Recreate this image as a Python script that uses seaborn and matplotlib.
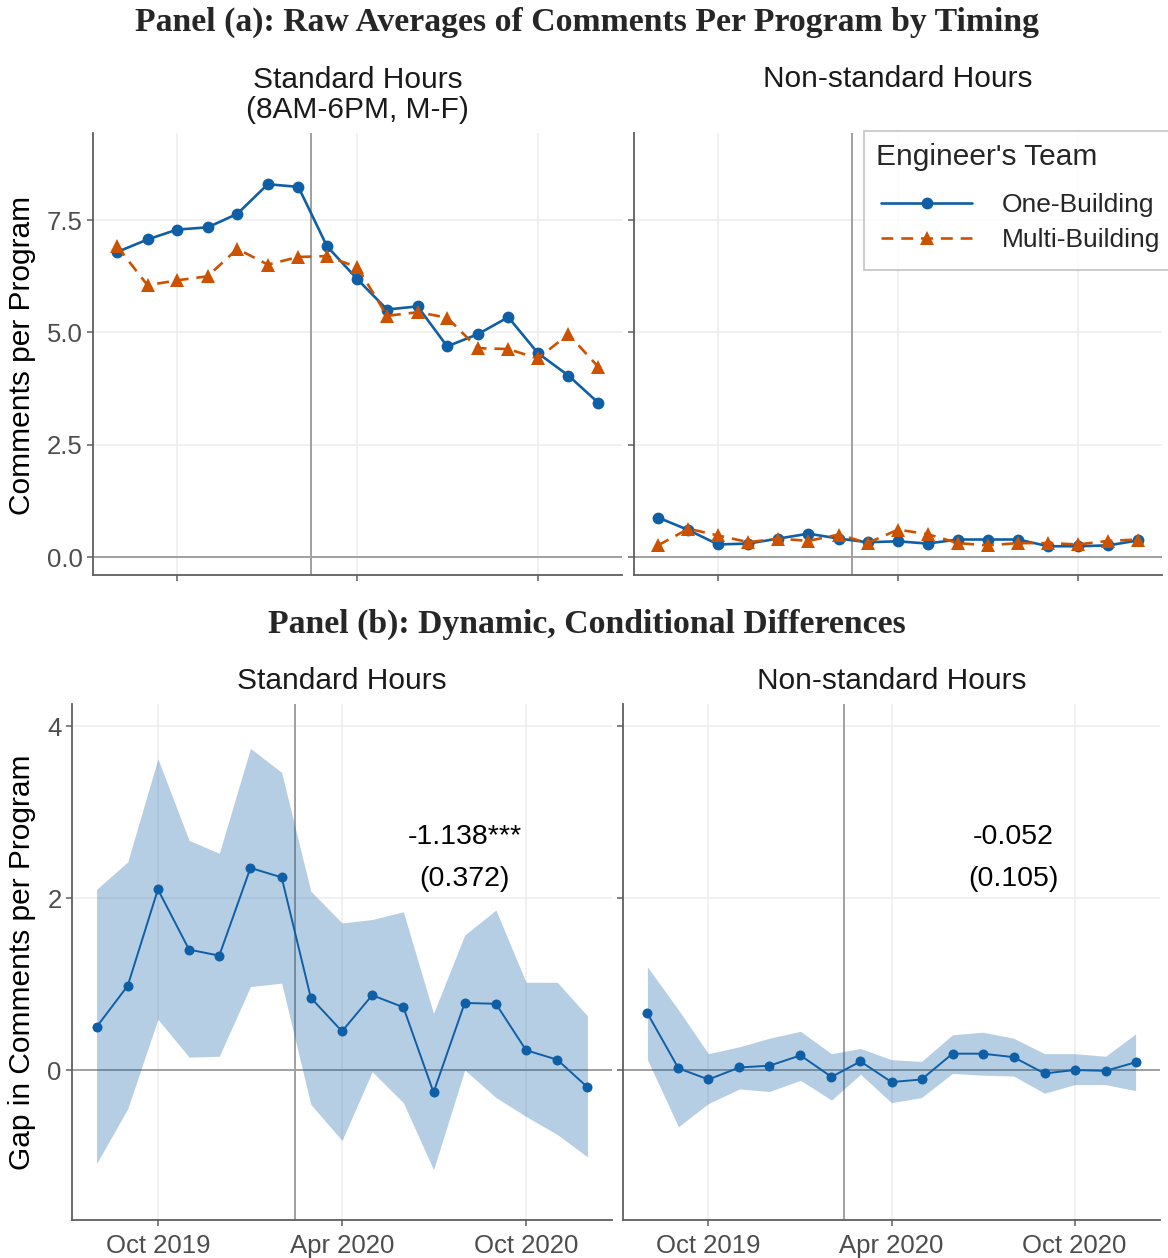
import numpy as np
import pandas as pd
import matplotlib
matplotlib.use("Agg")
import matplotlib.pyplot as plt
import matplotlib.dates as mdates
from matplotlib.patches import Rectangle
from matplotlib.ticker import FormatStrFormatter
import seaborn as sns

# ---------------------------------------------------------------- data
months = pd.date_range("2019-08-01", periods=17, freq="MS")
teams = ["One-Building", "Multi-Building"]
policy_date = pd.Timestamp("2020-02-14")
tick_dates = pd.to_datetime(["2019-10-01", "2020-04-01", "2020-10-01"])

# Panel (a): raw averages of comments per program
std_one = [6.79, 7.07, 7.29, 7.34, 7.64, 8.30, 8.24, 6.92, 6.18, 5.51, 5.58,
           4.69, 4.96, 5.34, 4.54, 4.04, 3.44]
std_multi = [6.92, 6.05, 6.16, 6.25, 6.86, 6.51, 6.68, 6.70, 6.45, 5.37, 5.45,
             5.33, 4.65, 4.63, 4.42, 4.96, 4.24]
non_one = [0.88, 0.60, 0.28, 0.30, 0.41, 0.52, 0.41, 0.33, 0.35, 0.30, 0.39,
           0.39, 0.39, 0.24, 0.24, 0.26, 0.37]
non_multi = [0.26, 0.63, 0.48, 0.33, 0.41, 0.36, 0.50, 0.31, 0.61, 0.51, 0.31,
             0.26, 0.31, 0.31, 0.28, 0.36, 0.39]

# Panel (b): conditional gaps with confidence bands
gap_std = [0.50, 0.98, 2.10, 1.40, 1.33, 2.35, 2.24, 0.84, 0.45, 0.87, 0.73,
           -0.26, 0.78, 0.77, 0.23, 0.12, -0.20]
gap_std_hi = [2.10, 2.42, 3.62, 2.67, 2.52, 3.74, 3.46, 2.08, 1.71, 1.75, 1.84,
              0.66, 1.57, 1.86, 1.02, 1.02, 0.63]
gap_std_lo = [-1.09, -0.45, 0.59, 0.15, 0.16, 0.97, 1.01, -0.40, -0.82, -0.02,
              -0.38, -1.16, 0.00, -0.32, -0.54, -0.75, -1.01]
gap_non = [0.66, 0.02, -0.11, 0.03, 0.05, 0.17, -0.08, 0.10, -0.14, -0.11, 0.19,
           0.19, 0.15, -0.04, 0.00, -0.01, 0.09]
gap_non_hi = [1.20, 0.70, 0.19, 0.27, 0.37, 0.45, 0.19, 0.25, 0.12, 0.10, 0.41,
              0.44, 0.37, 0.19, 0.19, 0.16, 0.42]
gap_non_lo = [0.12, -0.66, -0.39, -0.22, -0.25, -0.12, -0.35, -0.05, -0.38,
              -0.32, -0.04, -0.06, -0.07, -0.27, -0.17, -0.17, -0.24]

std_coef_text = ["-1.138***", "(0.372)"]
non_coef_text = ["-0.052", "(0.105)"]
coef_label_date = pd.Timestamp("2020-08-01")

# ---------------------------------------------------------------- style
sns.set_style("white")
plt.rcParams["font.family"] = ["Liberation Sans", "DejaVu Sans"]

BLUE = "#0F5FA6"
ORANGE = "#CC5200"
GRID = "#EDEDED"
AXIS = "#5F5F5F"
TICKTXT = "#4D4D4D"
REF = "#A0A0A0"
SERIF = ["Liberation Serif", "DejaVu Serif"]

W, H = 1168, 1258
fig = plt.figure(figsize=(W / 100, H / 100), dpi=100)


def box(x0, x1, ytop, ybot):
    return [x0 / W, 1 - ybot / H, (x1 - x0) / W, (ybot - ytop) / H]


ax_a1 = fig.add_axes(box(93, 622, 133, 575))
ax_a2 = fig.add_axes(box(634, 1162, 133, 575))
ax_b1 = fig.add_axes(box(72, 612, 704, 1220))
ax_b2 = fig.add_axes(box(623, 1160, 704, 1220))

span = months[-1] - months[0]
xlim = (months[0] - 0.05 * span, months[-1] + 0.05 * span)


def style_axes(ax, ylim, yticks, yfmt, show_y, xpad):
    ax.set_xlim(*xlim)
    ax.set_ylim(*ylim)
    ax.set_yticks(yticks)
    ax.yaxis.set_major_formatter(FormatStrFormatter(yfmt))
    ax.set_xticks(tick_dates)
    ax.xaxis.set_major_formatter(mdates.DateFormatter("%b %Y"))
    ax.grid(True, color=GRID, lw=1.1)
    ax.set_axisbelow(True)
    for s in ["top", "right"]:
        ax.spines[s].set_visible(False)
    for s in ["left", "bottom"]:
        ax.spines[s].set_color(AXIS)
        ax.spines[s].set_linewidth(1.3)
    ax.tick_params(axis="both", which="major", length=4.5, width=1.1,
                   color=AXIS, labelcolor=TICKTXT, labelsize=18.5, pad=3)
    ax.tick_params(axis="x", pad=xpad)
    ax.tick_params(axis="both", left=True, bottom=True)
    if not show_y:
        ax.tick_params(labelleft=False)
    ax.axhline(0, color=REF, lw=1.4, zorder=1)
    ax.axvline(policy_date, color=REF, lw=1.4, zorder=1)
    ax.set_xlabel("")
    ax.set_ylabel("")


# ---------------------------------------------------------------- panel (a)
markers = {"One-Building": "o", "Multi-Building": "^"}
dashes = {"One-Building": "", "Multi-Building": (4.5, 3.0)}
palette = {"One-Building": BLUE, "Multi-Building": ORANGE}

for ax, one, multi in [(ax_a1, std_one, std_multi), (ax_a2, non_one, non_multi)]:
    df = pd.DataFrame({
        "month": list(months) * 2,
        "comments": list(one) + list(multi),
        "team": [teams[0]] * len(months) + [teams[1]] * len(months),
    })
    sns.lineplot(data=df, x="month", y="comments", hue="team", style="team",
                 hue_order=teams, style_order=teams, palette=palette,
                 markers=markers, dashes=dashes, linewidth=1.9,
                 markersize=8.5, markeredgewidth=0, ax=ax, zorder=3,
                 legend=True)
    # triangles read larger than circles at equal size
    for ln in ax.lines:
        if ln.get_marker() == "^":
            ln.set_markersize(10.5)
    style_axes(ax, (-0.40, 9.44), [0, 2.5, 5.0, 7.5], "%.1f", ax is ax_a1, 3)

handles, labels = ax_a2.get_legend_handles_labels()
for h in handles:
    if h.get_marker() == "^":
        h.set_markersize(10.5)
for a in (ax_a1, ax_a2):
    if a.get_legend() is not None:
        a.get_legend().remove()

leg = fig.legend(handles, labels, loc="upper left",
                 bbox_to_anchor=(864 / W, 1 - 131 / H),
                 title="Engineer's Team", fontsize=19, title_fontsize=21.5,
                 frameon=True, fancybox=False, edgecolor="#B5B5B5",
                 handlelength=3.45, handletextpad=1.1, labelspacing=0.42,
                 borderpad=0.45, borderaxespad=0)
leg.get_frame().set_linewidth(1.2)
leg._legend_box.align = "left"
leg._legend_box.sep = 12
leg._legend_handle_box.pad = 4

# ---------------------------------------------------------------- panel (b)
for ax, gap, lo, hi, coef in [(ax_b1, gap_std, gap_std_lo, gap_std_hi, std_coef_text),
                              (ax_b2, gap_non, gap_non_lo, gap_non_hi, non_coef_text)]:
    ax.fill_between(months, lo, hi, color=BLUE, alpha=0.3, lw=0, zorder=2)
    sns.lineplot(x=months, y=gap, color=BLUE, marker="o", markersize=7.2,
                 markeredgewidth=0, linewidth=1.4, ax=ax, zorder=3)
    style_axes(ax, (-1.744, 4.256), [0, 2, 4], "%d", ax is ax_b1, 5.5)
    ax.text(coef_label_date, 2.71, coef[0], ha="center", va="center",
            fontsize=20.5, color="black")
    ax.text(coef_label_date, 2.22, coef[1], ha="center", va="center",
            fontsize=20.5, color="black")

# the upper row's date labels fall under the lower panel's heading band
fig.patches.append(Rectangle((0, 1 - 612 / H), 1, 26 / H,
                             transform=fig.transFigure, facecolor="white",
                             edgecolor="none", zorder=5))

# ---------------------------------------------------------------- text
fig.text(587 / W, 1 - 22 / H,
         "Panel (a): Raw Averages of Comments Per Program by Timing",
         ha="center", va="center", fontsize=24.3, fontweight="bold",
         family=SERIF, zorder=10)
fig.text(587 / W, 1 - 624 / H,
         "Panel (b): Dynamic, Conditional Differences",
         ha="center", va="center", fontsize=24.3, fontweight="bold",
         family=SERIF, zorder=10)

strip_kw = dict(ha="center", va="center", fontsize=21.5, color="#1A1A1A", zorder=10)
fig.text(357.5 / W, 1 - 95 / H, "Standard Hours\n(8AM-6PM, M-F)",
         linespacing=1.12, **strip_kw)
fig.text(898 / W, 1 - 79 / H, "Non-standard Hours", **strip_kw)
fig.text(342 / W, 1 - 681 / H, "Standard Hours", **strip_kw)
fig.text(891.5 / W, 1 - 681 / H, "Non-standard Hours", **strip_kw)

ylab_kw = dict(ha="center", va="center", rotation=90, fontsize=21.5,
               color="black", zorder=10)
fig.text(22 / W, 1 - 355 / H, "Comments per Program", **ylab_kw)
fig.text(22 / W, 1 - 962 / H, "Gap in Comments per Program", **ylab_kw)

fig.savefig("out.png", dpi=100)
